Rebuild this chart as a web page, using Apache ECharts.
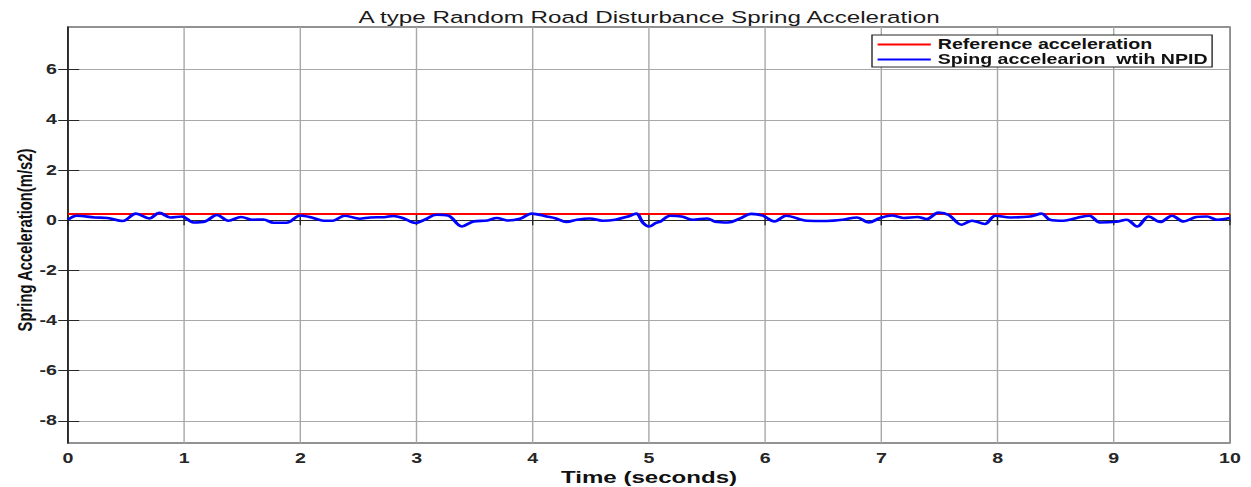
<!DOCTYPE html>
<html>
<head>
<meta charset="utf-8">
<script src="https://cdn.jsdelivr.net/npm/echarts@6/dist/echarts.min.js"></script>
<style>
  html, body { margin: 0; padding: 0; background: #fff; overflow: hidden; width: 1251px; height: 487px; }
  #chart { position: absolute; left: 0; top: 0; height: 487px; transform-origin: 0 0; }
</style>
</head>
<body>
<div id="chart"></div>
<script>
// Sampled spring acceleration (m/s^2) under NPID control, A-type random road
const timeS = [
  0.00, 0.075, 0.23, 0.34, 0.47, 0.585, 0.70, 0.786, 0.88, 0.98,
  1.08, 1.18, 1.28, 1.38, 1.49, 1.59, 1.68, 1.77, 1.88, 2.00,
  2.11, 2.20, 2.28, 2.38, 2.51, 2.60, 2.72, 2.80, 2.88, 2.99,
  3.07, 3.17, 3.27, 3.39, 3.49, 3.61, 3.69, 3.78, 3.89, 3.99,
  4.12, 4.20, 4.29, 4.38, 4.49, 4.60, 4.71, 4.82, 4.89, 4.95,
  5.00, 5.06, 5.10, 5.18, 5.28, 5.38, 5.50, 5.57, 5.68, 5.78,
  5.88, 5.98, 6.08, 6.18, 6.36, 6.53, 6.67, 6.79, 6.89, 6.99,
  7.09, 7.19, 7.31, 7.39, 7.49, 7.58, 7.69, 7.78, 7.89, 7.98,
  8.11, 8.28, 8.38, 8.45, 8.57, 8.68, 8.79, 8.88, 9.02, 9.11,
  9.20, 9.30, 9.40, 9.50, 9.60, 9.71, 9.80, 9.89, 10.00
];
const springAcc = [
  0.02, 0.18, 0.11, 0.09, -0.03, 0.26, 0.07, 0.29, 0.11, 0.15,
  -0.09, -0.05, 0.21, -0.02, 0.13, 0.02, 0.03, -0.10, -0.10, 0.19,
  0.09, -0.02, -0.02, 0.18, 0.06, 0.11, 0.12, 0.17, 0.09, -0.11,
  0.02, 0.22, 0.19, -0.25, -0.05, -0.01, 0.09, -0.01, 0.06, 0.26,
  0.15, 0.07, -0.07, 0.02, 0.07, -0.02, 0.02, 0.15, 0.26, -0.11,
  -0.25, -0.11, -0.05, 0.18, 0.15, 0.02, 0.07, -0.06, -0.09, 0.06,
  0.25, 0.18, -0.05, 0.18, -0.02, -0.03, 0.02, 0.11, -0.09, 0.09,
  0.19, 0.09, 0.13, 0.05, 0.30, 0.21, -0.18, -0.02, -0.15, 0.18,
  0.11, 0.15, 0.26, 0.02, -0.02, 0.09, 0.18, -0.09, -0.06, 0.02,
  -0.25, 0.15, -0.07, 0.18, -0.05, 0.13, 0.15, 0.02, 0.09
];
// Constant reference acceleration
const refTime = [0, 10];
const refAcc = [0.25, 0.25];

const yTickValues = [-8, -6, -4, -2, 0, 2, 4, 6];
const xRange = [0, 10];
const yRange = [-8.88, 7.7];

const titleText = 'A type Random Road Disturbance Spring Acceleration';
const xName = 'Time (seconds)';
const yName = 'Spring Acceleration(m/s2)';
const refName = 'Reference acceleration';
const npidName = 'Sping accelearion  wtih NPID';

// The figure is laid out narrower and stretched horizontally
const S = 1.4;
const W = 1251 / S;
const el = document.getElementById('chart');
el.style.width = W + 'px';
el.style.transform = 'scaleX(' + S + ')';

const FONT = '"Liberation Sans", Arial, Helvetica, sans-serif';
const INK = '#262626';
const GRIDC = '#a8a8a8';

const plotLeft = 68 / S, plotRight = (1251 - 1230) / S, plotTop = 27, plotBottom = 44;
const plotCenterX = (68 + 1230) / 2 / S;

const chart = echarts.init(el, null, { renderer: 'svg', width: W, height: 487 });

const baseX = {
  type: 'value', min: xRange[0], max: xRange[1], interval: 1
};
const baseY = {
  type: 'value', min: yRange[0], max: yRange[1]
};

chart.setOption({
  animation: false,
  backgroundColor: '#ffffff',
  grid: {
    left: plotLeft, right: plotRight, top: plotTop, bottom: plotBottom,
    show: true, borderColor: INK, borderWidth: 1, backgroundColor: '#ffffff',
    outerBoundsMode: 'none'
  },
  graphic: [
    {
      type: 'text',
      x: plotCenterX,
      y: 17,
      style: {
        text: titleText, fontFamily: FONT, fontSize: 17.3, fontWeight: 'normal',
        fill: '#1a1a1a', align: 'center', verticalAlign: 'middle'
      }
    },
    {
      type: 'text',
      x: plotCenterX,
      y: 477,
      style: {
        text: xName, fontFamily: FONT, fontSize: 17.2, fontWeight: 'bold',
        fill: '#111', align: 'center', verticalAlign: 'middle'
      }
    },
    {
      type: 'text',
      x: 25 / S,
      y: 240,
      rotation: Math.PI / 2,
      style: {
        text: yName, fontFamily: FONT, fontSize: 14.8, fontWeight: 'bold',
        fill: '#111', align: 'center', verticalAlign: 'middle'
      }
    }
  ],
  legend: {
    orient: 'vertical',
    left: 872 / S, top: 35,
    icon: 'rect',
    itemWidth: 38, itemHeight: 2.2, itemGap: 0,
    padding: [2, 3, 0, 4],
    backgroundColor: '#ffffff',
    borderColor: INK, borderWidth: 1, borderRadius: 0,
    textStyle: { fontFamily: FONT, fontSize: 14, lineHeight: 15, fontWeight: 'bold', color: '#111' },
    data: [refName, npidName]
  },
  xAxis: [
    Object.assign({}, baseX, {
      position: 'bottom',
      axisLine: { show: true, lineStyle: { color: INK, width: 1 } },
      axisTick: { show: true, inside: true, length: 6, lineStyle: { color: INK } },
      axisLabel: { margin: 8, fontFamily: FONT, fontSize: 14, fontWeight: 'bold', color: INK },
      splitLine: { show: true, lineStyle: { color: GRIDC, width: 1 } }
    }),
    Object.assign({}, baseX, {
      position: 'top',
      axisLine: { show: true, lineStyle: { color: INK, width: 1 } },
      axisTick: { show: true, inside: true, length: 5, lineStyle: { color: INK } },
      axisLabel: { show: false },
      splitLine: { show: false }
    })
  ],
  yAxis: [
    Object.assign({}, baseY, {
      position: 'left',
      axisLine: { show: true, lineStyle: { color: INK, width: 1 } },
      axisTick: { show: true, inside: true, length: 8, customValues: yTickValues, lineStyle: { color: INK } },
      axisLabel: { margin: 8, customValues: yTickValues, fontFamily: FONT, fontSize: 14, fontWeight: 'bold', color: INK },
      splitLine: { show: true, lineStyle: { color: GRIDC, width: 1 } }
    }),
    Object.assign({}, baseY, {
      position: 'right',
      axisLine: { show: true, lineStyle: { color: INK, width: 1 } },
      axisTick: { show: true, inside: true, length: 7, customValues: yTickValues, lineStyle: { color: INK } },
      axisLabel: { show: false, customValues: yTickValues },
      splitLine: { show: false }
    })
  ],
  series: [
    {
      name: refName, type: 'line', xAxisIndex: 0, yAxisIndex: 0,
      symbol: 'none',
      lineStyle: { color: '#ff0000', width: 2 },
      itemStyle: { color: '#ff0000' },
      data: refTime.map((t, i) => [t, refAcc[i]])
    },
    {
      name: npidName, type: 'line', xAxisIndex: 0, yAxisIndex: 0,
      symbol: 'none', smooth: 0.35,
      lineStyle: { color: '#0000ff', width: 2.6 },
      itemStyle: { color: '#0000ff' },
      data: timeS.map((t, i) => [t, springAcc[i]])
    }
  ]
});
</script>
</body>
</html>
